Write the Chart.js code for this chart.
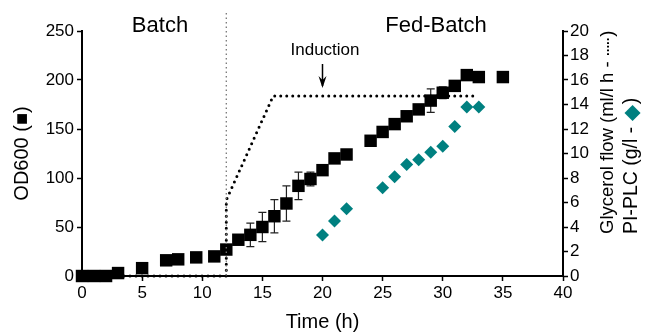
<!DOCTYPE html>
<html>
<head>
<meta charset="utf-8">
<script src="https://cdn.jsdelivr.net/npm/chart.js@4.4.0/dist/chart.umd.min.js"></script>
<style>
  body { margin: 0; background: #fff; }
  canvas { display: block; }
</style>
</head>
<body>
<canvas id="chart" width="645" height="334"></canvas>
<script>
let font = "'Liberation Sans', Arial, sans-serif";

// OD600, black squares, left axis
let odTime  = [0, 1, 2, 3, 5, 7, 8, 9.5, 11, 12, 13, 14, 15, 16, 17, 18, 19, 20, 21, 22, 24, 25, 26, 27, 28, 29, 30, 31, 32, 33, 35];
let odValue = [0, 0, 0, 3, 8, 16, 17, 19, 20, 27, 37, 42, 50, 61, 74, 92, 99, 108, 120, 124, 138, 147, 155, 163, 170, 179, 187, 194, 205, 203, 203];
let odError = [0, 0, 0, 0, 0, 0, 0, 0, 0, 0, 0, 12, 15, 17, 18, 14, 7, 0, 0, 0, 0, 4, 0, 0, 0, 12, 6, 0, 5, 0, 0];

// glycerol feed, dotted line, right axis
let flowTime  = [0, 12, 12, 15.9, 32.5];
let flowValue = [0, 0, 6.2, 14.7, 14.7];

// PI-PLC, teal diamonds, right axis
let plcTime  = [20, 21, 22, 25, 26, 27, 28, 29, 30, 31, 32, 33];
let plcValue = [3.35, 4.5, 5.5, 7.2, 8.1, 9.1, 9.5, 10.1, 10.6, 12.2, 13.8, 13.8];

let timeTicks  = [0, 5, 10, 15, 20, 25, 30, 35, 40];
let odTicks    = [0, 50, 100, 150, 200, 250];
let rightTicks = [0, 2, 4, 6, 8, 10, 12, 14, 16, 18, 20];

let phaseSwitch = 12;
let inductionTime = 20;
let teal = "#008080";

function toPoints(xs, ys) {
    return xs.map((x, i) => ({ x: x, y: ys[i] }));
}

function useTicks(list) {
    return function(scale) {
        scale.ticks = list.map(v => ({ value: v }));
    };
}

let errorBars = {
    id: "errorBars",
    beforeDatasetsDraw(chart) {
        let ctx = chart.ctx;
        let meta = chart.getDatasetMeta(0);
        let y = chart.scales.y;
        ctx.save();
        ctx.strokeStyle = "#222";
        ctx.lineWidth = 1.2;
        meta.data.forEach((pt, i) => {
            let e = odError[i];
            if (!e) return;
            let top = y.getPixelForValue(odValue[i] + e);
            let bot = y.getPixelForValue(odValue[i] - e);
            ctx.beginPath();
            ctx.moveTo(pt.x, top); ctx.lineTo(pt.x, bot);
            ctx.moveTo(pt.x - 4, top); ctx.lineTo(pt.x + 4, top);
            ctx.moveTo(pt.x - 4, bot); ctx.lineTo(pt.x + 4, bot);
            ctx.stroke();
        });
        ctx.restore();
    }
};

let extras = {
    id: "extras",
    afterDraw(chart) {
        let ctx = chart.ctx;
        let x = chart.scales.x;
        let area = chart.chartArea;
        ctx.save();

        // batch / fed-batch separator
        let sx = x.getPixelForValue(phaseSwitch);
        ctx.strokeStyle = "#777";
        ctx.lineWidth = 1.3;
        ctx.setLineDash([1.5, 3]);
        ctx.beginPath();
        ctx.moveTo(sx, 13);
        ctx.lineTo(sx, area.bottom);
        ctx.stroke();
        ctx.setLineDash([]);

        ctx.fillStyle = "#000";
        ctx.textAlign = "center";
        ctx.textBaseline = "alphabetic";
        ctx.font = "22px " + font;
        ctx.fillText("Batch", 160, 32);
        ctx.fillText("Fed-Batch", 436, 32);
        ctx.font = "17px " + font;
        ctx.fillText("Induction", 325, 55);

        // induction arrow
        let ax = x.getPixelForValue(inductionTime);
        ctx.strokeStyle = "#000";
        ctx.lineWidth = 1.5;
        ctx.beginPath();
        ctx.moveTo(ax, 64);
        ctx.lineTo(ax, 86);
        ctx.stroke();
        ctx.beginPath();
        ctx.moveTo(ax - 4, 76);
        ctx.lineTo(ax, 88);
        ctx.lineTo(ax + 4, 76);
        ctx.lineTo(ax, 80);
        ctx.closePath();
        ctx.fill();

        // right axis titles
        ctx.textAlign = "left";
        ctx.textBaseline = "middle";
        ctx.save();
        ctx.translate(608, 234);
        ctx.rotate(-Math.PI / 2);
        ctx.font = "18.5px " + font;
        let g = "Glycerol flow (ml/l h - ";
        ctx.fillText(g, 0, 0);
        let gw = ctx.measureText(g).width;
        ctx.letterSpacing = "-2.5px";
        ctx.fillText("·····", gw - 1, 0);
        gw += ctx.measureText("·····").width;
        ctx.letterSpacing = "0px";
        ctx.fillText(")", gw + 1, 0);
        ctx.restore();

        ctx.save();
        ctx.translate(632, 234);
        ctx.rotate(-Math.PI / 2);
        ctx.font = "19.5px " + font;
        let a = "PI-PLC (g/l - ";
        ctx.fillText(a, 0, 0);
        let w = ctx.measureText(a).width;
        ctx.fillStyle = teal;
        ctx.font = "21px " + font;
        ctx.fillText("◆", w, 0);
        w += ctx.measureText("◆").width;
        ctx.fillStyle = "#000";
        ctx.font = "19.5px " + font;
        ctx.fillText(")", w + 1, 0);
        ctx.restore();

        ctx.restore();
    }
};

let tickFont = { family: font, size: 17 };

new Chart(document.getElementById("chart"), {
    type: "scatter",
    data: {
        datasets: [
            {
                label: "OD600",
                data: toPoints(odTime, odValue),
                yAxisID: "y",
                pointStyle: "rect",
                pointRadius: 8.8,
                pointHoverRadius: 8.8,
                backgroundColor: "#000",
                borderColor: "#000",
                borderWidth: 0,
                clip: false
            },
            {
                label: "PI-PLC",
                data: toPoints(plcTime, plcValue),
                yAxisID: "y1",
                pointStyle: "rectRot",
                pointRadius: 6.5,
                backgroundColor: teal,
                borderColor: teal,
                borderWidth: 0,
                clip: false
            },
            {
                label: "Glycerol flow",
                data: toPoints(flowTime, flowValue),
                yAxisID: "y1",
                showLine: true,
                borderColor: "#000",
                borderWidth: 3,
                borderDash: [0, 6],
                borderCapStyle: "round",
                pointRadius: 0,
                clip: false
            }
        ]
    },
    options: {
        responsive: false,
        animation: false,
        layout: { padding: { top: 31, left: 0, right: 0, bottom: 0 } },
        plugins: {
            legend: { display: false },
            tooltip: { enabled: false }
        },
        scales: {
            x: {
                type: "linear",
                min: 0,
                max: 40,
                afterBuildTicks: useTicks(timeTicks),
                afterFit(scale) { scale.height = 58; },
                border: { display: true, color: "#000", width: 2 },
                grid: { drawOnChartArea: false, drawTicks: true, tickLength: 5, tickWidth: 1.5, tickColor: "#000" },
                ticks: { color: "#000", font: tickFont, padding: 2, maxRotation: 0 },
                title: { display: true, text: "Time (h)", color: "#000", font: { family: font, size: 20 }, padding: { top: 0, bottom: 0 } }
            },
            y: {
                position: "left",
                min: 0,
                max: 250,
                afterBuildTicks: useTicks(odTicks),
                afterFit(scale) { scale.width = 82; },
                border: { display: true, color: "#000", width: 2 },
                grid: { drawOnChartArea: false, drawTicks: true, tickLength: 5, tickWidth: 1.5, tickColor: "#000" },
                ticks: { color: "#000", font: tickFont, padding: 3 },
                title: { display: true, text: "OD600 (■)", color: "#000", font: { family: font, size: 20 }, padding: { top: 10, bottom: 0 } }
            },
            y1: {
                position: "right",
                min: 0,
                max: 20,
                afterBuildTicks: useTicks(rightTicks),
                afterFit(scale) { scale.width = 82; },
                border: { display: true, color: "#000", width: 2 },
                grid: { drawOnChartArea: false, drawTicks: true, tickLength: 5, tickWidth: 1.5, tickColor: "#000" },
                ticks: { color: "#000", font: tickFont, padding: 2 }
            }
        }
    },
    plugins: [errorBars, extras]
});
</script>
</body>
</html>
